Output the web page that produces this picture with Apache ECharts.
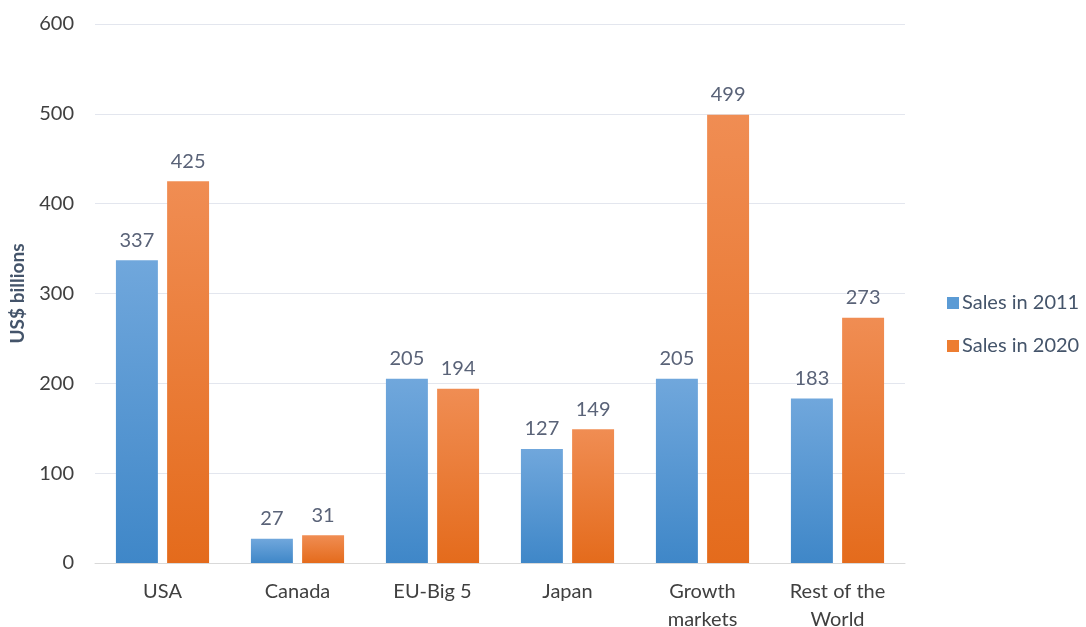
<!DOCTYPE html>
<html><head><meta charset="utf-8">
<script src="https://cdn.jsdelivr.net/npm/echarts@6/dist/echarts.min.js"></script>
<style>html,body{margin:0;padding:0;background:#fff;overflow:hidden}#c{width:1086px;height:627px}</style>
</head><body><div id="c"></div>
<script>
var categories = ['USA', 'Canada', 'EU-Big 5', 'Japan', 'Growth\nmarkets', 'Rest of the\nWorld'];
var sales2011 = [337, 27, 205, 127, 205, 183];
var sales2020 = [425, 31, 194, 149, 499, 273];
var seriesNames = ['Sales in 2011', 'Sales in 2020'];
var yTicks = [0, 100, 200, 300, 400, 500, 600];

var FONT = 'Lato, "Open Sans", sans-serif';
function grad(top, bottom) {
  return new echarts.graphic.LinearGradient(0, 0, 0, 1, [
    {offset: 0, color: top}, {offset: 1, color: bottom}
  ]);
}
var chart = echarts.init(document.getElementById('c'), null, {renderer: 'canvas'});
chart.setOption({
  animation: false,
  textStyle: {fontFamily: FONT},
  grid: {left: 95, right: 181, top: 24, bottom: 64, containLabel: false, outerBoundsMode: 'none'},
  legend: {
    orient: 'vertical', left: 942, top: 288, itemWidth: 12, itemHeight: 12, itemGap: 23,
    icon: 'rect',
    textStyle: {fontSize: 20, color: '#44546a', fontFamily: FONT, padding: [0, 0, 0, -2]},
    data: [
      {name: seriesNames[0], itemStyle: {color: '#5b9bd5'}},
      {name: seriesNames[1], itemStyle: {color: '#ed7d31'}}
    ]
  },
  xAxis: {
    type: 'category', data: categories,
    axisLine: {lineStyle: {color: '#d9d9d9', width: 1}},
    axisTick: {show: false},
    axisLabel: {fontSize: 20, color: '#404040', margin: 15, lineHeight: 28, fontFamily: FONT, interval: 0}
  },
  yAxis: {
    type: 'value', min: 0, max: 600, interval: 100,
    name: 'US$ billions', nameLocation: 'middle', nameGap: 68, nameRotate: 90,
    nameTextStyle: {fontSize: 19, fontWeight: 'bold', color: '#44546a', fontFamily: FONT},
    axisLine: {show: false}, axisTick: {show: false},
    splitLine: {lineStyle: {color: '#e3e6ee', width: 1}},
    axisLabel: {fontSize: 20, color: '#404040', margin: 21, fontFamily: FONT,
      formatter: function (v) { return yTicks.indexOf(v) >= 0 ? String(v) : ''; }}
  },
  series: [
    {
      name: seriesNames[0], type: 'bar', data: sales2011,
      barGap: '22%', barCategoryGap: '31%',
      itemStyle: {color: grad('#70a7dc', '#3f87c8')},
      label: {show: true, position: 'top', distance: 10, fontSize: 20, color: '#5a6378', fontFamily: FONT}
    },
    {
      name: seriesNames[1], type: 'bar', data: sales2020,
      itemStyle: {color: grad('#f08d53', '#e46b1c')},
      label: {show: true, position: 'top', distance: 10, fontSize: 20, color: '#5a6378', fontFamily: FONT}
    }
  ]
});
</script></body></html>
